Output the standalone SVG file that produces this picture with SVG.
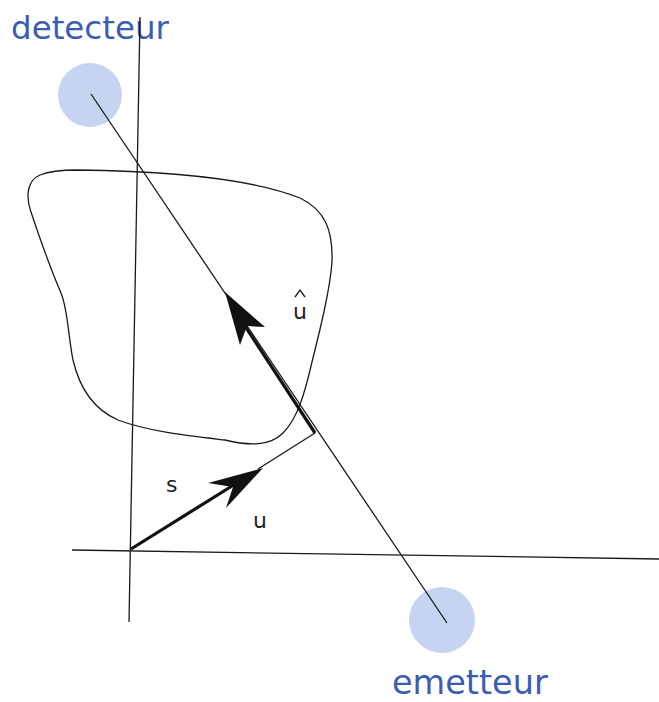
<svg xmlns="http://www.w3.org/2000/svg" width="659" height="702" viewBox="0 0 659 702">
<style>
.thin{fill:none;stroke:#1a1a1a;stroke-width:1.3}
.thick{fill:none;stroke:#111;stroke-width:3.2}
.head{fill:#111;stroke:none}
.big{font-family:"DejaVu Sans",Verdana,sans-serif;fill:#3a5db3}
.lbl{font-family:"DejaVu Sans",Verdana,sans-serif;font-size:22px;fill:#222}
.src{fill:#c6d4f1}
</style>
<rect width="659" height="702" fill="#ffffff"/>
<g id="detecteur">
<circle class="src" cx="90" cy="95" r="32"/>
<text class="big" x="11" y="39" font-size="32.5">detecteur</text>
</g>
<g id="emetteur">
<circle class="src" cx="442" cy="620" r="33"/>
<text class="big" x="392" y="694" font-size="33.5">emetteur</text>
</g>
<g id="objet">
<path class="thin" d="M77,170 C160,171 250,178 300,198 C325,210 333,230 332,262 C330,290 320,330 312,362 C305,392 298,418 283,433 C270,446 250,446 225,440 C190,436 150,432 118,420 C95,410 80,390 73,360 C68,335 68,310 61,293 C52,272 42,245 31,212 C25,195 28,180 40,175 C50,171 62,170 77,170 Z"/>
</g>
<g id="axes">
<line class="thin" x1="140" y1="17" x2="129" y2="622"/>
<line class="thin" x1="72" y1="550" x2="659" y2="559"/>
</g>
<g id="connectors">
<line class="thin" x1="91" y1="94" x2="447" y2="623"/>
<line class="thin" x1="258" y1="469" x2="315" y2="433"/>
<line class="thick" x1="131" y1="549" x2="240" y2="481"/>
<polygon class="head" points="263,468 226,508 233,487 208,483"/>
<line class="thick" x1="315" y1="433" x2="241" y2="320"/>
<polygon class="head" points="225,292 265,327 247,326 240,345"/>
</g>
<g id="labels">
<text class="lbl" x="166" y="492">s</text>
<text class="lbl" x="253" y="528">u</text>
<text class="lbl" x="293" y="319">u</text>
<path class="thin" d="M295,297 L300,290 L305,297"/>
</g>
</svg>
